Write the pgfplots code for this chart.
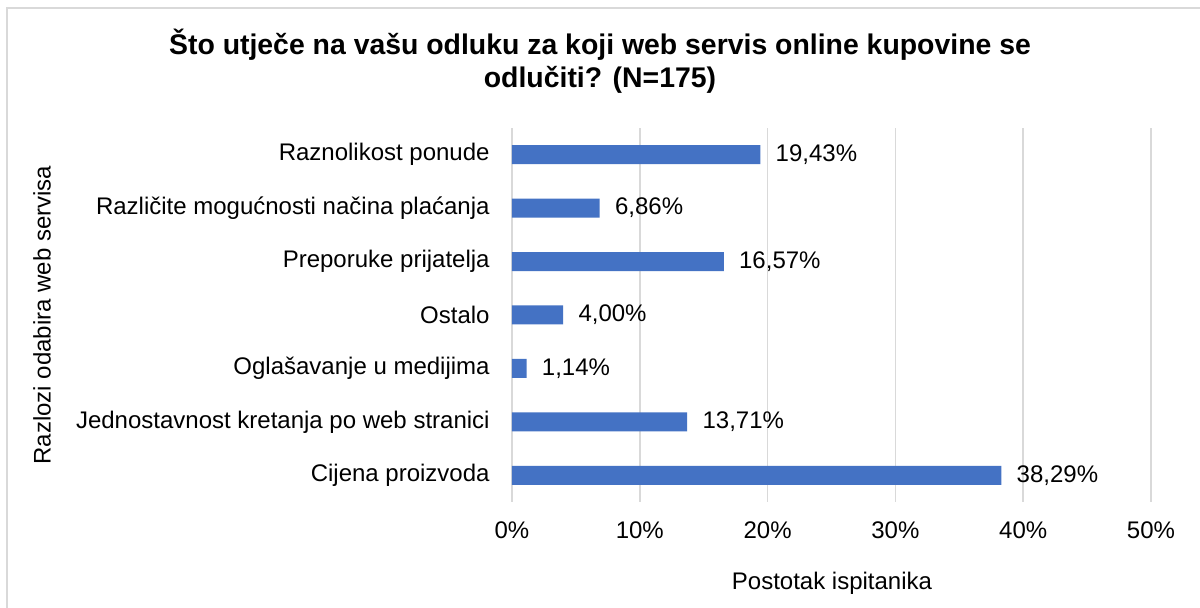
\documentclass[border=0pt]{standalone}
\usepackage{pgfplots}
\pgfplotsset{compat=1.18}
\usepackage{fontspec}
\setmainfont{Liberation Sans}
\definecolor{barblue}{HTML}{4472C4}
\definecolor{gridgray}{HTML}{D9D9D9}
\begin{document}
\begin{tikzpicture}
\clip (-256pt,-53pt) rectangle (344pt,251pt);
\fill[white] (-256pt,-53pt) rectangle (344pt,251pt);
\draw[gridgray, line width=0.75pt] (-252.5pt,-70pt) -- (-252.5pt,247pt) -- (360pt,247pt);
\begin{axis}[
  at={(0pt,0pt)}, anchor=south west,
  scale only axis, width=319.5pt, height=187pt,
  xbar, bar width=9.5pt,
  xmin=0, xmax=50, ymin=-0.5, ymax=6.5,
  xtick={0,10,20,30,40,50},
  xticklabel={\pgfmathprintnumber{\tick}\%},
  ytick={0,1,2,3,4,5,6},
  yticklabels={Cijena proizvoda, Jednostavnost kretanja po web stranici, Oglašavanje u medijima, Ostalo, Preporuke prijatelja, Različite mogućnosti načina plaćanja, Raznolikost ponude},
  xmajorgrids, major grid style={gridgray, line width=0.75pt},
  axis line style={draw=none}, major tick length=0pt,
  /pgf/number format/assume math mode=true,
  tick label style={font=\fontsize{12}{14}\selectfont, inner sep=0pt},
  yticklabel style={xshift=-11pt},
  xticklabel style={yshift=-9.5pt},
  nodes near coords={\pgfmathprintnumber[fixed,fixed zerofill,precision=2,use comma]{\pgfplotspointmeta}\%},
  nodes near coords style={font=\fontsize{12}{14}\selectfont, anchor=west, inner sep=0pt, xshift=7.5pt},
  point meta=x,
  clip=false,
]
\addplot[fill=barblue, draw=none] coordinates {
 (38.29,0) (13.71,1) (1.14,2) (4.00,3) (16.57,4) (6.86,5) (19.43,6)
};
\end{axis}
\node[anchor=base, font=\bfseries\fontsize{14.2}{16}\selectfont] at (44pt,223.5pt) {Što utječe na vašu odluku za koji web servis online kupovine se};
\node[anchor=base, font=\bfseries\fontsize{14.2}{16}\selectfont] at (44pt,207pt) {odlučiti? (N=175)};
\node[rotate=90, font=\fontsize{12}{14}\selectfont] at (-235pt,93.5pt) {Razlozi odabira web servisa};
\node[anchor=base, font=\fontsize{12}{14}\selectfont] at (160pt,-44pt) {Postotak ispitanika};
\end{tikzpicture}
\end{document}
